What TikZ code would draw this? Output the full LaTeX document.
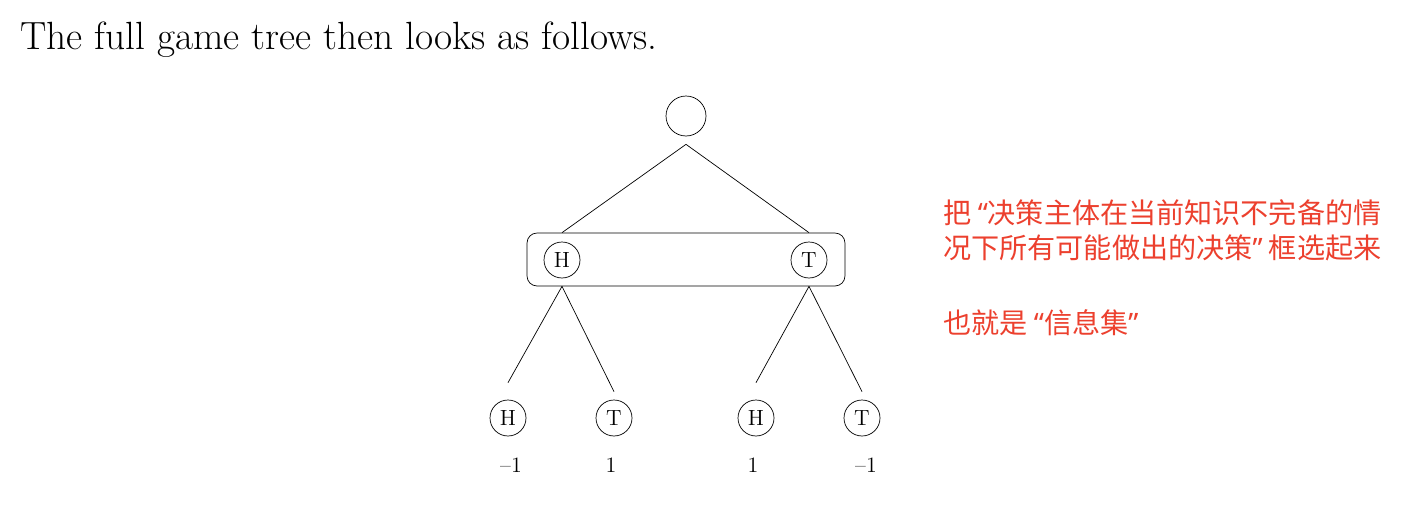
\documentclass[tikz,border=0pt]{standalone}
\usepackage{fontspec}
\newfontfamily\cjk{Noto Sans CJK SC}
\newfontfamily\quotefont{Noto Sans}
\newcommand\noteoq{{\quotefont “}}
\newcommand\notecq{{\quotefont ”}}
\definecolor{notered}{RGB}{236,64,46}
\usetikzlibrary{positioning}

\begin{document}
\begin{tikzpicture}[x=0.02cm, y=-0.02cm,
  chance/.style={draw, circle, minimum size=0.8cm, inner sep=0pt},
  coin/.style={draw, circle, minimum size=0.72cm, inner sep=0pt, font=\fontsize{12.5}{14}\selectfont},
  payoff/.style={font=\fontsize{12.5}{14}\selectfont, anchor=base, inner sep=0pt},
  note/.style={text=notered, font=\cjk\fontsize{16}{19.5}\selectfont, anchor=base west, align=left, inner sep=0pt}]
\useasboundingbox (0,0) rectangle (1420,514);
\node[anchor=base west, inner sep=0pt, font=\fontsize{22.4}{26}\selectfont] (title) at (20,49) {The full game tree then looks as follows.};

% root and the information set
\node[chance] (root) at (686,116) {};
\node[coin] (iH) at (562,260) {H};
\node[coin] (iT) at (809,260) {T};
\node[draw, rounded corners=0.2cm, minimum width=6.36cm, minimum height=1.06cm] (infoset) at (686,259.5) {};
\coordinate (rootfoot) at ([yshift=-0.16cm]root.south);
\draw (rootfoot) -- (iH |- infoset.north);
\draw (rootfoot) -- (iT |- infoset.north);

% leaves
\node[coin] (lHH) at (508,418) {H};
\node[coin] (lHT) at (614,418) {T};
\node[coin] (lTH) at (756,418) {H};
\node[coin] (lTT) at (862,418) {T};
\draw (iH |- infoset.south) -- ([yshift=0.34cm]lHH.north);
\draw (iH |- infoset.south) -- ([yshift=0.16cm]lHT.north);
\draw (iT |- infoset.south) -- ([yshift=0.34cm]lTH.north);
\draw (iT |- infoset.south) -- ([yshift=0.16cm]lTT.north);

\node[payoff] (pHH) at (511,472) {--1};
\node[payoff] (pHT) at (611,472) {1};
\node[payoff] (pTH) at (753,472) {1};
\node[payoff] (pTT) at (866,472) {--1};

% annotation
\node[note] (note1) at (943,258) {把 \noteoq 决策主体在当前知识不完备的情\\况下所有可能做出的决策\notecq{} 框选起来};
\node[note] (note2) at (943,333) {也就是 \noteoq 信息集\notecq};
\end{tikzpicture}
\end{document}
